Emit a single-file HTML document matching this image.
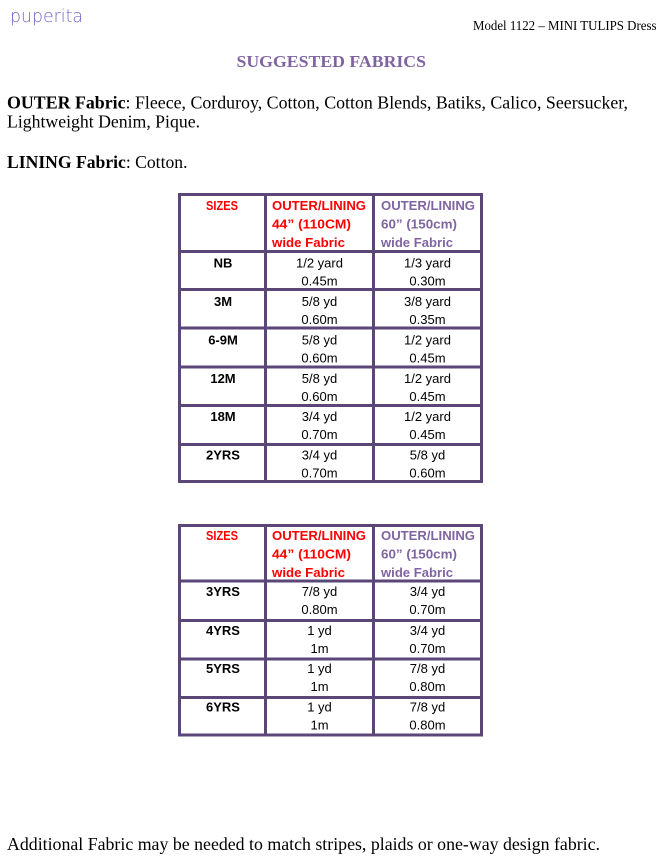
<!DOCTYPE html>
<html>
<head>
<meta charset="utf-8">
<style>
html,body{margin:0;padding:0;background:#fff;}
svg{display:block;}
.serif{font-family:"Liberation Serif",serif;}
.sans{font-family:"Liberation Sans",sans-serif;}
</style>
</head>
<body>
<svg width="665" height="868" viewBox="0 0 665 868" xmlns="http://www.w3.org/2000/svg">
<rect width="665" height="868" fill="#fff"/>

<!-- logo -->
<text x="10" y="22" font-family="DejaVu Sans, Liberation Sans, sans-serif" font-weight="200" font-size="18" fill="#7563c8" textLength="73" lengthAdjust="spacingAndGlyphs">puperita</text>

<!-- header -->
<text x="473" y="30" class="serif" font-size="13.5" fill="#000" textLength="183.5" lengthAdjust="spacingAndGlyphs">Model 1122 – MINI TULIPS Dress</text>

<!-- title -->
<text x="236.5" y="67" class="serif" font-size="17" font-weight="bold" fill="#8064a2" textLength="189.5" lengthAdjust="spacingAndGlyphs">SUGGESTED FABRICS</text>

<!-- body text -->
<text x="7" y="108.5" class="serif" font-size="18" fill="#000" textLength="621" lengthAdjust="spacingAndGlyphs"><tspan font-weight="bold">OUTER Fabric</tspan>: Fleece, Corduroy, Cotton, Cotton Blends, Batiks, Calico, Seersucker,</text>
<text x="7" y="127.5" class="serif" font-size="18" fill="#000" textLength="193" lengthAdjust="spacingAndGlyphs">Lightweight Denim, Pique.</text>
<text x="7" y="168" class="serif" font-size="18" fill="#000" textLength="180.5" lengthAdjust="spacingAndGlyphs"><tspan font-weight="bold">LINING Fabric</tspan>: Cotton.</text>

<text x="7" y="850" class="serif" font-size="18" fill="#000" textLength="593" lengthAdjust="spacingAndGlyphs">Additional Fabric may be needed to match stripes, plaids or one-way design fabric.</text>

<!-- TABLE 1 borders -->
<g fill="#5a4677">
  <rect x="178" y="193" width="305" height="3"/>
  <rect x="178" y="250" width="305" height="3"/>
  <rect x="178" y="288" width="305" height="3"/>
  <rect x="178" y="326.5" width="305" height="3"/>
  <rect x="178" y="365.5" width="305" height="3"/>
  <rect x="178" y="404" width="305" height="3"/>
  <rect x="178" y="443" width="305" height="3"/>
  <rect x="178" y="480" width="305" height="3"/>
  <rect x="178" y="193" width="3" height="290"/>
  <rect x="264" y="193" width="3" height="290"/>
  <rect x="372" y="193" width="3" height="290"/>
  <rect x="480" y="193" width="3" height="290"/>
</g>

<!-- TABLE 1 header -->
<g class="sans" font-size="13" font-weight="bold">
  <text x="222" y="210" text-anchor="middle" fill="#ff0000" textLength="32" lengthAdjust="spacingAndGlyphs">SIZES</text>
  <text x="272" y="210" fill="#ff0000" textLength="94" lengthAdjust="spacingAndGlyphs">OUTER/LINING</text>
  <text x="272" y="228.5" fill="#ff0000" textLength="79" lengthAdjust="spacingAndGlyphs">44” (110CM)</text>
  <text x="272" y="247" fill="#ff0000" textLength="73" lengthAdjust="spacingAndGlyphs">wide Fabric</text>
  <text x="381" y="210" fill="#8064a2" textLength="94" lengthAdjust="spacingAndGlyphs">OUTER/LINING</text>
  <text x="381" y="228.5" fill="#8064a2" textLength="76" lengthAdjust="spacingAndGlyphs">60” (150cm)</text>
  <text x="381" y="247" fill="#8064a2" textLength="72" lengthAdjust="spacingAndGlyphs">wide Fabric</text>
</g>

<!-- TABLE 1 body -->
<g class="sans" font-size="13" fill="#000">
  <g font-weight="bold" text-anchor="middle">
    <text x="223" y="267.5">NB</text>
    <text x="223" y="306">3M</text>
    <text x="223" y="344.5">6-9M</text>
    <text x="223" y="383">12M</text>
    <text x="223" y="421">18M</text>
    <text x="223" y="459.5">2YRS</text>
  </g>
  <g text-anchor="middle">
    <text x="319.5" y="267.5">1/2 yard</text><text x="319.5" y="285.5">0.45m</text>
    <text x="319.5" y="306">5/8 yd</text><text x="319.5" y="324">0.60m</text>
    <text x="319.5" y="344.5">5/8 yd</text><text x="319.5" y="362.5">0.60m</text>
    <text x="319.5" y="383">5/8 yd</text><text x="319.5" y="401">0.60m</text>
    <text x="319.5" y="421">3/4 yd</text><text x="319.5" y="439">0.70m</text>
    <text x="319.5" y="459.5">3/4 yd</text><text x="319.5" y="477.5">0.70m</text>

    <text x="427.5" y="267.5">1/3 yard</text><text x="427.5" y="285.5">0.30m</text>
    <text x="427.5" y="306">3/8 yard</text><text x="427.5" y="324">0.35m</text>
    <text x="427.5" y="344.5">1/2 yard</text><text x="427.5" y="362.5">0.45m</text>
    <text x="427.5" y="383">1/2 yard</text><text x="427.5" y="401">0.45m</text>
    <text x="427.5" y="421">1/2 yard</text><text x="427.5" y="439">0.45m</text>
    <text x="427.5" y="459.5">5/8 yd</text><text x="427.5" y="477.5">0.60m</text>
  </g>
</g>

<!-- TABLE 2 borders -->
<g fill="#5a4677">
  <rect x="178" y="524" width="305" height="3"/>
  <rect x="178" y="579.5" width="305" height="3"/>
  <rect x="178" y="619" width="305" height="3"/>
  <rect x="178" y="657.5" width="305" height="3"/>
  <rect x="178" y="696" width="305" height="3"/>
  <rect x="178" y="733.5" width="305" height="3"/>
  <rect x="178" y="524" width="3" height="212.5"/>
  <rect x="264" y="524" width="3" height="212.5"/>
  <rect x="372" y="524" width="3" height="212.5"/>
  <rect x="480" y="524" width="3" height="212.5"/>
</g>

<!-- TABLE 2 header -->
<g class="sans" font-size="13" font-weight="bold">
  <text x="222" y="540" text-anchor="middle" fill="#ff0000" textLength="32" lengthAdjust="spacingAndGlyphs">SIZES</text>
  <text x="272" y="540" fill="#ff0000" textLength="94" lengthAdjust="spacingAndGlyphs">OUTER/LINING</text>
  <text x="272" y="558.5" fill="#ff0000" textLength="79" lengthAdjust="spacingAndGlyphs">44” (110CM)</text>
  <text x="272" y="577" fill="#ff0000" textLength="73" lengthAdjust="spacingAndGlyphs">wide Fabric</text>
  <text x="381" y="540" fill="#8064a2" textLength="94" lengthAdjust="spacingAndGlyphs">OUTER/LINING</text>
  <text x="381" y="558.5" fill="#8064a2" textLength="76" lengthAdjust="spacingAndGlyphs">60” (150cm)</text>
  <text x="381" y="577" fill="#8064a2" textLength="72" lengthAdjust="spacingAndGlyphs">wide Fabric</text>
</g>

<!-- TABLE 2 body -->
<g class="sans" font-size="13" fill="#000">
  <g font-weight="bold" text-anchor="middle">
    <text x="223" y="596">3YRS</text>
    <text x="223" y="635">4YRS</text>
    <text x="223" y="673">5YRS</text>
    <text x="223" y="711.5">6YRS</text>
  </g>
  <g text-anchor="middle">
    <text x="319.5" y="596">7/8 yd</text><text x="319.5" y="614">0.80m</text>
    <text x="319.5" y="635">1 yd</text><text x="319.5" y="653">1m</text>
    <text x="319.5" y="673">1 yd</text><text x="319.5" y="691">1m</text>
    <text x="319.5" y="711.5">1 yd</text><text x="319.5" y="729.5">1m</text>

    <text x="427.5" y="596">3/4 yd</text><text x="427.5" y="614">0.70m</text>
    <text x="427.5" y="635">3/4 yd</text><text x="427.5" y="653">0.70m</text>
    <text x="427.5" y="673">7/8 yd</text><text x="427.5" y="691">0.80m</text>
    <text x="427.5" y="711.5">7/8 yd</text><text x="427.5" y="729.5">0.80m</text>
  </g>
</g>
</svg>
</body>
</html>
